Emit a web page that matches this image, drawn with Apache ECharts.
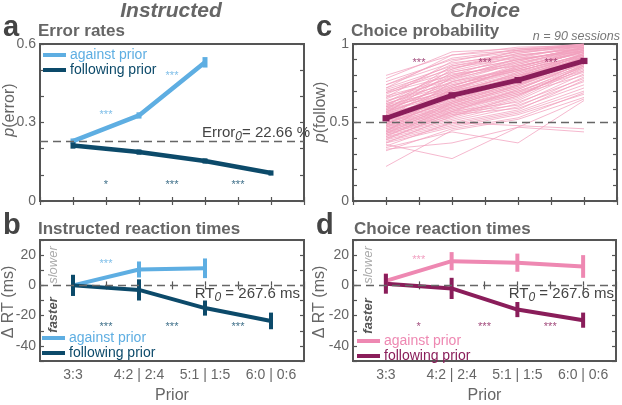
<!DOCTYPE html>
<html><head><meta charset="utf-8">
<script src="https://cdn.jsdelivr.net/npm/echarts@6/dist/echarts.min.js"></script>
<style>html,body{margin:0;padding:0;background:#fff;}#c{width:622px;height:405px;}</style>
</head><body><div id="c"></div>
<script>
// ---------- data ----------
const priorLabels = ['3:3', '4:2 | 2:4', '5:1 | 1:5', '6:0 | 0:6'];
const xPos = [1, 2, 3, 4];

// panel a: error rates
const errAgainst = [0.229, 0.327, 0.530];
const errAgainstSem = [0.010, 0.012, 0.020];
const errFollow = [0.212, 0.187, 0.153, 0.107];
const errFollowSem = [0.012, 0.010, 0.010, 0.010];
const errBaseline = 0.2266;

// panel b: instructed RT (ms, relative)
const rtInstrAgainst = [0, 10.5, 11.3];
const rtInstrAgainstSem = [0, 5.3, 6.5];
const rtInstrFollow = [0, -3, -15, -23.5];
const rtInstrFollowSem = [7, 7, 5, 5.5];

// panel c: choice probability
const choiceMean = [0.527, 0.673, 0.770, 0.892];
const choiceSem = [0.02, 0.02, 0.02, 0.02];
const sessions = [
 [0.80,0.93,0.96,0.99],[0.78,0.95,0.97,1.00],[0.76,0.90,0.95,0.98],[0.74,0.88,0.93,0.97],
 [0.72,0.86,0.92,0.98],[0.71,0.84,0.94,0.99],[0.70,0.82,0.90,0.96],[0.69,0.80,0.88,0.97],
 [0.68,0.85,0.91,0.95],[0.67,0.78,0.87,0.96],[0.66,0.77,0.89,0.98],[0.65,0.81,0.86,0.94],
 [0.64,0.75,0.84,0.95],[0.63,0.79,0.90,0.97],[0.62,0.74,0.83,0.93],[0.62,0.76,0.85,0.96],
 [0.61,0.72,0.82,0.92],[0.60,0.73,0.86,0.95],[0.60,0.70,0.80,0.91],[0.59,0.71,0.81,0.94],
 [0.58,0.69,0.79,0.90],[0.58,0.74,0.83,0.93],[0.57,0.68,0.78,0.92],[0.57,0.70,0.80,0.89],
 [0.56,0.66,0.77,0.91],[0.56,0.72,0.84,0.95],[0.55,0.65,0.76,0.88],[0.55,0.67,0.79,0.93],
 [0.54,0.64,0.75,0.90],[0.54,0.69,0.81,0.92],[0.53,0.63,0.74,0.87],[0.53,0.66,0.78,0.91],
 [0.52,0.62,0.73,0.89],[0.52,0.68,0.77,0.94],[0.51,0.61,0.72,0.86],[0.51,0.65,0.76,0.90],
 [0.50,0.60,0.71,0.88],[0.50,0.63,0.74,0.92],[0.49,0.59,0.70,0.85],[0.49,0.64,0.75,0.89],
 [0.48,0.58,0.69,0.87],[0.48,0.62,0.73,0.91],[0.47,0.57,0.68,0.84],[0.47,0.61,0.72,0.88],
 [0.46,0.56,0.67,0.86],[0.46,0.60,0.70,0.83],[0.45,0.55,0.66,0.87],[0.45,0.59,0.69,0.82],
 [0.44,0.54,0.65,0.85],[0.44,0.58,0.68,0.80],[0.43,0.53,0.64,0.83],[0.43,0.57,0.63,0.78],
 [0.42,0.52,0.62,0.81],[0.42,0.56,0.61,0.76],[0.41,0.51,0.60,0.79],[0.40,0.55,0.59,0.74],
 [0.40,0.50,0.58,0.77],[0.39,0.49,0.57,0.72],[0.38,0.48,0.56,0.70],[0.37,0.47,0.55,0.68],
 [0.36,0.27,0.47,0.65],[0.22,0.45,0.52,0.66],[0.34,0.44,0.37,0.64],[0.33,0.37,0.47,0.44],
 [0.35,0.50,0.48,0.46],[0.32,0.46,0.53,0.69],[0.74,0.91,0.96,1.00],[0.72,0.93,0.98,0.99],
 [0.69,0.87,0.95,1.00],[0.66,0.89,0.97,0.98],[0.63,0.83,0.92,0.99],[0.61,0.80,0.93,0.97],
 [0.59,0.78,0.91,0.99],[0.57,0.76,0.88,0.96],[0.55,0.73,0.87,0.98],[0.53,0.71,0.85,0.97],
 [0.51,0.70,0.86,0.95],[0.49,0.67,0.82,0.96],[0.47,0.66,0.80,0.94],[0.45,0.63,0.79,0.93],
 [0.43,0.62,0.76,0.92],[0.41,0.60,0.74,0.90],[0.39,0.57,0.71,0.88],[0.37,0.54,0.67,0.86],
 [0.60,0.86,0.94,1.00],[0.58,0.84,0.96,0.99],[0.56,0.82,0.90,0.97],[0.52,0.79,0.89,0.98],
 [0.48,0.76,0.84,0.95],[0.44,0.72,0.83,0.93]
];
const choiceBaseline = 0.5;

// panel d: choice RT
const rtChoiceAgainst = [3, 16, 15, 12.5];
const rtChoiceAgainstSem = [5, 6, 6, 7.5];
const rtChoiceFollow = [1, -2, -16, -23];
const rtChoiceFollowSem = [6.5, 7, 5, 5];
const rtBaseline = 0;

// significance stars [x, y, text]
const starsAAgainst = [[1.5, 0.34, '***'], [2.5, 0.49, '***']];
const starsAFollow = [[1.5, 0.072, '*'], [2.5, 0.072, '***'], [3.5, 0.072, '***']];
const starsC = [[1.5, 0.90, '***'], [2.5, 0.90, '***'], [3.5, 0.90, '***']];
const starsBAgainst = [[1.5, 16, '***']];
const starsBFollow = [[1.5, -25.5, '***'], [2.5, -25.5, '***'], [3.5, -25.5, '***']];
const starsDAgainst = [[1.5, 18.5, '***']];
const starsDFollow = [[1.5, -25.5, '*'], [2.5, -25.5, '***'], [3.5, -25.5, '***']];

// tick labels
const yTicksA = [0, 0.3, 0.6], yTickTextA = ['0', '0.3', '0.6'];
const yTicksC = [0, 0.5, 1], yTickTextC = ['0', '0.5', '1'];
const yTicksRT = [-40, -20, 0, 20], yTickTextRT = ['-40', '-20', '0', '20'];

// ---------- styling ----------
const FONT = 'Liberation Sans, Arial, Helvetica, sans-serif';
const lightBlue = '#5eaee2', darkTeal = '#0c4a6a';
const pink = '#ee88b2', magenta = '#8a1d5a', pinkLine = 'rgba(242,160,190,0.75)';
const axisGray = '#555', labelGray = '#666';

const chart = echarts.init(document.getElementById('c'), null, {renderer: 'canvas'});

const grids = [
  {left: 40, top: 44, width: 264, height: 157},
  {left: 40, top: 240, width: 264, height: 124},
  {left: 353, top: 44, width: 264, height: 157},
  {left: 353, top: 240, width: 263, height: 124}
].map(g => Object.assign({show: true, borderColor: axisGray, borderWidth: 2, backgroundColor: 'transparent'}, g));

const tick = {inside: true, length: 4, lineStyle: {color: axisGray, width: 1.2}};
function xAxes(gi, withLabels) {
  const base = {gridIndex: gi, type: 'value', min: 0.5, max: 4.5, interval: 0.5,
    axisLine: {show: false}, axisTick: tick, splitLine: {show: false}};
  const bottom = Object.assign({}, base, {position: 'bottom',
    axisLabel: withLabels ? {show: true, color: labelGray, fontSize: 14, margin: 7, fontFamily: FONT,
      formatter: v => { const k = Math.round(v * 2); return (k % 2 === 0 && priorLabels[k / 2 - 1]) || ''; }} : {show: false}});
  if (withLabels) Object.assign(bottom, {name: 'Prior', nameLocation: 'middle', nameGap: 27,
      nameTextStyle: {color: labelGray, fontSize: 16, fontFamily: FONT}});
  const top = Object.assign({}, base, {position: 'top', axisLabel: {show: false}});
  return [bottom, top];
}
function yAxes(gi, min, max, interval, ticks, texts) {
  const base = {gridIndex: gi, type: 'value', min, max, interval,
    axisLine: {show: false}, axisTick: tick, splitLine: {show: false}};
  const left = Object.assign({}, base, {position: 'left',
    axisLabel: {show: true, color: labelGray, fontSize: 14, margin: 4, fontFamily: FONT,
      formatter: v => { const i = ticks.findIndex(t => Math.abs(t - v) < 1e-6); return i >= 0 ? texts[i] : ''; }}});
  const right = Object.assign({}, base, {position: 'right', axisLabel: {show: false}});
  return [left, right];
}

const xAxis = [].concat(xAxes(0, false), xAxes(1, true), xAxes(2, false), xAxes(3, true));
const yAxis = [].concat(
  yAxes(0, 0, 0.6, 0.1, yTicksA, yTickTextA),
  yAxes(1, -50, 30, 10, yTicksRT, yTickTextRT),
  yAxes(2, 0, 1, 0.1, yTicksC, yTickTextC),
  yAxes(3, -50, 30, 10, yTicksRT, yTickTextRT));

function lineS(name, g, vals, color, width, z) {
  return {type: 'line', name, xAxisIndex: 2 * g, yAxisIndex: 2 * g, silent: true, animation: false,
    data: vals.map((v, i) => [xPos[i], v]), symbol: 'none', z: z || 3,
    lineStyle: {color, width}, itemStyle: {color}};
}
function errS(g, vals, sems, color, width, z) {
  return {type: 'custom', xAxisIndex: 2 * g, yAxisIndex: 2 * g, silent: true, animation: false, z: z || 4,
    data: vals.map((v, i) => [xPos[i], v - sems[i], v + sems[i]]),
    encode: {x: 0, y: [1, 2]},
    renderItem: (params, api) => {
      const p1 = api.coord([api.value(0), api.value(1)]);
      const p2 = api.coord([api.value(0), api.value(2)]);
      return {type: 'line', shape: {x1: p1[0], y1: p1[1], x2: p2[0], y2: p2[1]},
        style: {stroke: color, lineWidth: width}};
    }};
}
function starS(g, data, color) {
  return {type: 'scatter', xAxisIndex: 2 * g, yAxisIndex: 2 * g, silent: true, animation: false, z: 5,
    data, symbolSize: 1, itemStyle: {color: 'rgba(0,0,0,0)'},
    label: {show: true, position: 'inside', formatter: p => p.data[2], color, fontSize: 11,
      offset: [0, 3], fontFamily: FONT}};
}
function baseLine(g, y) {
  return {type: 'line', xAxisIndex: 2 * g, yAxisIndex: 2 * g, data: [], silent: true, animation: false, z: 2,
    markLine: {silent: true, symbol: ['none', 'none'], animation: false, label: {show: false},
      lineStyle: {type: [8, 5], color: '#666', width: 1.4}, data: [{yAxis: y}]}};
}

const series = [];
// a
series.push(baseLine(0, errBaseline));
series.push(lineS('a-against', 0, errAgainst, lightBlue, 4.5));
series.push(errS(0, errAgainst, errAgainstSem, lightBlue, 5));
series.push(lineS('a-follow', 0, errFollow, darkTeal, 4.5));
series.push(errS(0, errFollow, errFollowSem, darkTeal, 5));
series.push(starS(0, starsAAgainst, lightBlue));
series.push(starS(0, starsAFollow, darkTeal));
// b
series.push(baseLine(1, rtBaseline));
series.push(lineS('b-against', 1, rtInstrAgainst, lightBlue, 4));
series.push(errS(1, rtInstrAgainst, rtInstrAgainstSem, lightBlue, 4));
series.push(lineS('b-follow', 1, rtInstrFollow, darkTeal, 4));
series.push(errS(1, rtInstrFollow, rtInstrFollowSem, darkTeal, 4));
series.push(starS(1, starsBAgainst, lightBlue));
series.push(starS(1, starsBFollow, darkTeal));
// c
sessions.forEach((s, i) => series.push(lineS('s' + i, 2, s, pinkLine, 1, 2)));
series.push(baseLine(2, choiceBaseline));
series.push(lineS('c-mean', 2, choiceMean, magenta, 5, 6));
series.push(errS(2, choiceMean, choiceSem, magenta, 7, 7));
series.push(starS(2, starsC, magenta));
// d
series.push(baseLine(3, rtBaseline));
series.push(lineS('d-against', 3, rtChoiceAgainst, pink, 4));
series.push(errS(3, rtChoiceAgainst, rtChoiceAgainstSem, pink, 4));
series.push(lineS('d-follow', 3, rtChoiceFollow, magenta, 4));
series.push(errS(3, rtChoiceFollow, rtChoiceFollowSem, magenta, 4));
series.push(starS(3, starsDAgainst, pink));
series.push(starS(3, starsDFollow, magenta));

const legendText = {'a-against': 'against prior', 'a-follow': 'following prior',
  'b-against': 'against prior', 'b-follow': 'following prior',
  'd-against': 'against prior', 'd-follow': 'following prior'};
function legend(left, top, names, colors) {
  return {left, top, orient: 'vertical', icon: 'rect', itemWidth: 23, itemHeight: 4, itemGap: 1,
    selectedMode: false, padding: 0, formatter: n => legendText[n],
    textStyle: {fontSize: 14, fontFamily: FONT, padding: [0, 0, 0, -1]},
    data: names.map((n, i) => ({name: n, textStyle: {color: colors[i]}}))};
}

// text helper: y is the vertical middle of the text
function txt(x, y, text, font, fill, align, rot, rich) {
  const style = {text, font, fill, align: align || 'left', textAlign: align || 'left',
    verticalAlign: 'middle', textVerticalAlign: 'middle'};
  if (rich) style.rich = rich;
  return {type: 'text', x, y, rotation: rot || 0, silent: true, style};
}
const titleFont = 'italic bold 21px ' + FONT;
const letterFont = 'bold 29px ' + FONT;
const subFont = 'bold 17px ' + FONT;
const richName = {i: {fontStyle: 'italic', fontSize: 16, fill: labelGray, fontFamily: FONT},
  n: {fontSize: 16, fill: labelGray, fontFamily: FONT}};
const richRT = {a: {fontSize: 15, fill: '#444', fontFamily: FONT},
  s: {fontSize: 12, fontStyle: 'italic', fill: '#444', fontFamily: FONT, padding: [7, 0, 0, 0], verticalAlign: 'bottom'}};
const R = Math.PI / 2;

const graphic = [
  txt(171, 11, 'Instructed', titleFont, '#666', 'center'),
  txt(485, 11, 'Choice', titleFont, '#666', 'center'),
  txt(3, 28, 'a', letterFont, '#444'),
  txt(38, 31, 'Error rates', subFont, '#666'),
  txt(3, 226, 'b', letterFont, '#444'),
  txt(38, 229, 'Instructed reaction times', subFont, '#666'),
  txt(316, 28, 'c', letterFont, '#444'),
  txt(351, 31, 'Choice probability', subFont, '#666'),
  txt(316, 226, 'd', letterFont, '#444'),
  txt(354, 229, 'Choice reaction times', subFont, '#666'),
  txt(620, 37, 'n = 90 sessions', 'italic 12.5px ' + FONT, '#777', 'right'),
  txt(10, 110, '{i|p}{n|(error)}', '16px ' + FONT, labelGray, 'center', R, richName),
  txt(321, 112, '{i|p}{n|(follow)}', '16px ' + FONT, labelGray, 'center', R, richName),
  txt(9, 302, 'Δ RT (ms)', '16px ' + FONT, labelGray, 'center', R),
  txt(320, 302, 'Δ RT (ms)', '16px ' + FONT, labelGray, 'center', R),
  txt(53, 265, 'slower', 'italic 13px ' + FONT, '#aaa', 'center', R),
  txt(53, 315, 'faster', 'italic bold 13px ' + FONT, '#555', 'center', R),
  txt(368, 265, 'slower', 'italic 13px ' + FONT, '#aaa', 'center', R),
  txt(368, 316, 'faster', 'italic bold 13px ' + FONT, '#555', 'center', R),
  txt(310, 133, '{a|Error}{s|0}{a|= 22.66 %}', '15px ' + FONT, '#444', 'right', 0, richRT),
  txt(300, 294, '{a|RT}{s|0}{a| = 267.6 ms}', '15px ' + FONT, '#444', 'right', 0, richRT),
  txt(614, 294, '{a|RT}{s|0}{a| = 267.6 ms}', '15px ' + FONT, '#444', 'right', 0, richRT)
];

chart.setOption({
  animation: false,
  textStyle: {fontFamily: FONT},
  grid: grids, xAxis, yAxis, series,
  legend: [
    legend(43, 48, ['a-against', 'a-follow'], [lightBlue, darkTeal]),
    legend(42, 331, ['b-against', 'b-follow'], [lightBlue, darkTeal]),
    legend(357, 334, ['d-against', 'd-follow'], [pink, magenta])
  ],
  graphic
});
</script></body></html>
